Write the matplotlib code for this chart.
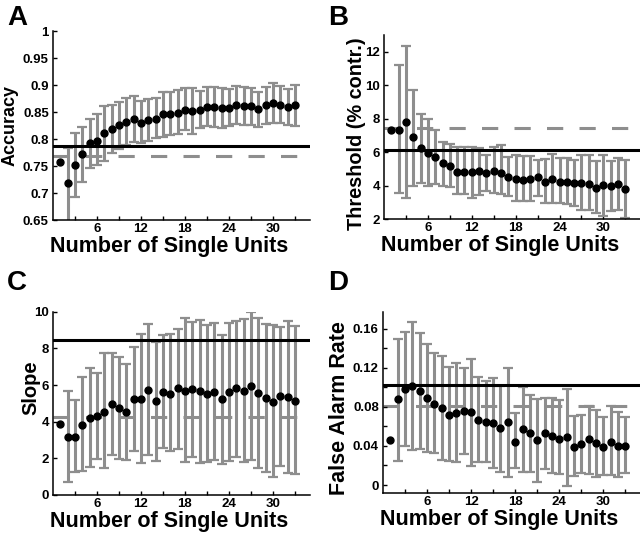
import numpy as np
import matplotlib.pyplot as plt
from matplotlib.ticker import FixedLocator, FixedFormatter

plt.rcParams['font.family'] = ['Liberation Sans', 'DejaVu Sans']
plt.rcParams['font.weight'] = 'bold'
plt.rcParams['lines.scale_dashes'] = False

nan = np.nan
units = np.arange(1, 34)

# A - accuracy
acc = [0.758, 0.718, 0.752, 0.772, 0.792, 0.797, 0.811, 0.818, 0.826, 0.832, 0.838,
       0.830, 0.835, 0.838, 0.846, 0.847, 0.849, 0.854, 0.852, 0.854, 0.860, 0.859,
       0.857, 0.858, 0.863, 0.862, 0.861, 0.855, 0.863, 0.866, 0.863, 0.860, 0.863]
acc_lo = [nan, 0.64, 0.693, 0.720, 0.747, 0.751, 0.760, 0.775, 0.781, 0.789, 0.794,
          0.792, 0.797, 0.802, 0.804, 0.807, 0.810, 0.817, 0.810, 0.820, 0.824, 0.823,
          0.820, 0.824, 0.828, 0.826, 0.826, 0.823, 0.828, 0.830, 0.829, 0.826, 0.824]
acc_hi = [nan, 0.783, 0.811, 0.823, 0.837, 0.846, 0.861, 0.863, 0.868, 0.876, 0.880,
          0.870, 0.874, 0.876, 0.888, 0.888, 0.891, 0.894, 0.894, 0.889, 0.897, 0.896,
          0.894, 0.892, 0.898, 0.896, 0.895, 0.888, 0.897, 0.903, 0.898, 0.892, 0.900]

# B - threshold
thr = [7.33, 7.33, 7.78, 6.88, 6.27, 5.96, 5.73, 5.32, 5.17, 4.84, 4.82, 4.82, 4.86,
       4.78, 4.86, 4.74, 4.53, 4.39, 4.34, 4.38, 4.50, 4.22, 4.42, 4.23, 4.23, 4.17,
       4.15, 4.10, 3.88, 4.01, 3.98, 4.11, 3.78]
thr_lo = [nan, 3.54, 3.27, 4.0, 4.15, 3.98, 4.1, 3.97, 3.9, 3.48, 3.48, 3.25, 3.45,
          3.65, 3.55, 3.5, 3.35, 3.05, 3.05, 3.05, 3.39, 2.95, 2.95, 2.95, 2.89, 2.8,
          2.56, 2.52, 2.36, 2.2, 2.5, 2.56, 2.06]
thr_hi = [nan, 11.2, 12.35, 9.72, 8.28, 7.96, 7.35, 6.63, 6.47, 6.3, 6.3, 6.33, 6.27,
          5.8, 6.3, 6.4, 5.7, 5.84, 5.78, 5.78, 5.54, 5.58, 5.9, 5.62, 5.62, 5.54,
          5.82, 5.82, 5.44, 5.82, 5.44, 5.64, 5.5]

# C - slope
slope = [3.87, 3.18, 3.18, 3.82, 4.22, 4.31, 4.55, 4.95, 4.76, 4.51, 5.22, 5.22, 5.73,
         5.13, 5.64, 5.49, 5.82, 5.67, 5.78, 5.69, 5.51, 5.60, 5.22, 5.60, 5.82, 5.67,
         5.96, 5.55, 5.27, 5.09, 5.40, 5.36, 5.15]
slope_lo = [nan, 0.73, 1.27, 1.33, 1.55, 1.96, 1.45, 2.18, 1.96, 1.91, 2.40, 1.76, 2.18,
            1.85, 2.55, 2.42, 2.51, 1.78, 2.09, 1.73, 1.82, 1.91, 1.67, 1.85, 2.09, 1.82,
            1.91, 1.45, 1.27, 0.96, 1.58, 1.18, 1.15]
slope_hi = [nan, 5.67, 5.18, 6.45, 6.91, 6.65, 7.73, 7.73, 7.55, 7.16, 8.09, 8.76, 9.31,
            8.36, 8.73, 8.76, 9.05, 9.64, 9.45, 9.55, 9.27, 9.36, 8.73, 9.36, 9.51, 9.60,
            9.97, 9.64, 9.33, 9.27, 9.18, 9.51, 9.24]

# D - false alarm rate
far = [0.0462, 0.0879, 0.0985, 0.1015, 0.0968, 0.0889, 0.083, 0.0786, 0.0718, 0.0742,
       0.0762, 0.0745, 0.0667, 0.0643, 0.0632, 0.0581, 0.0643, 0.0444, 0.0571, 0.053,
       0.046, 0.053, 0.050, 0.0468, 0.049, 0.0386, 0.042, 0.0468, 0.0427, 0.0393,
       0.0444, 0.040, 0.040]
far_lo = [nan, 0.0246, 0.040, 0.036, 0.037, 0.034, 0.033, 0.0256, 0.0246, 0.024, 0.032,
          0.0195, 0.024, 0.024, 0.0171, 0.013, 0.0085, 0.017, 0.0137, 0.013, 0.0034,
          0.016, 0.012, 0.011, -0.0007, 0.0096, 0.0126, 0.011, 0.0085, 0.010, 0.010,
          0.0079, 0.012]
far_hi = [nan, 0.150, 0.157, 0.167, 0.156, 0.145, 0.135, 0.132, 0.121, 0.125, 0.120,
          0.129, 0.111, 0.107, 0.110, 0.102, 0.120, 0.074, 0.100, 0.092, 0.0885, 0.089,
          0.089, 0.087, 0.098, 0.0708, 0.0718, 0.081, 0.077, 0.070, 0.081, 0.075, 0.0694]

# reference levels (solid black, dashed gray)
ref_solid = [0.787, 6.1, 8.45, 0.1026]
ref_dashed = [0.769, 7.45, 4.25, 0.081]

GRAY = '#8e8e8e'

fig = plt.figure(figsize=(6.4, 5.33), dpi=100)


def panel(rect, y, lo, hi, solid, dashed, ylim, yticks, ylabels, yminor,
          ylabel, ysize, ylab_xy):
    ax = fig.add_axes(rect)
    y = np.array(y)
    lo = np.array(lo)
    hi = np.array(hi)
    ax.plot([0, 35], [dashed, dashed], color=GRAY, lw=2.2,
            ls=(0, (11.7, 11.7)), zorder=1)
    m = ~np.isnan(lo)
    ax.errorbar(units[m], y[m], yerr=[y[m] - lo[m], hi[m] - y[m]], fmt='none',
                ecolor=GRAY, elinewidth=2.2, capsize=3.4, capthick=1.6, zorder=2)
    ax.axhline(solid, color='k', lw=2.2, zorder=3)
    ax.plot(units, y, 'o', color='k', ms=5, zorder=4)

    ax.set_xlim(0, 35)
    ax.set_ylim(*ylim)
    ax.xaxis.set_major_locator(FixedLocator([6, 12, 18, 24, 30]))
    ax.xaxis.set_minor_locator(FixedLocator([3, 9, 15, 21, 27, 33]))
    ax.yaxis.set_major_locator(FixedLocator(yticks))
    ax.yaxis.set_major_formatter(FixedFormatter(ylabels))
    if yminor:
        ax.yaxis.set_minor_locator(FixedLocator(yminor))
    ax.tick_params(which='both', direction='in', length=3, width=1,
                   labelsize=9.5, pad=3)
    ax.tick_params(axis='x', pad=2)
    for s in ['top', 'right']:
        ax.spines[s].set_visible(False)
    for s in ['left', 'bottom']:
        ax.spines[s].set_linewidth(1.1)
    ax.set_xlabel('Number of Single Units', fontsize=15.5, fontweight='bold')
    ax.xaxis.set_label_coords(0.453, -0.085)
    ax.set_ylabel(ylabel, fontsize=ysize, fontweight='bold')
    ax.yaxis.set_label_coords(*ylab_xy)
    return ax


panel([0.0828, 0.5872, 0.4008, 0.3546], acc, acc_lo, acc_hi, ref_solid[0], ref_dashed[0],
      (0.65, 1.0), [0.65, 0.7, 0.75, 0.8, 0.85, 0.9, 0.95, 1.0],
      ['0.65', '0.7', '0.75', '0.8', '0.85', '0.9', '0.95', '1'], None,
      'Accuracy', 13, (-0.135, 0.5))
panel([0.6, 0.5891, 0.4, 0.3452], thr, thr_lo, thr_hi, ref_solid[1], ref_dashed[1],
      (2, 13), [2, 4, 6, 8, 10, 12], ['2', '4', '6', '8', '10', '12'], None,
      'Threshold (% contr.)', 14.3, (-0.072, 0.465))
panel([0.0828, 0.0713, 0.4008, 0.3439], slope, slope_lo, slope_hi, ref_solid[2], ref_dashed[2],
      (0, 10), [0, 2, 4, 6, 8, 10], ['0', '2', '4', '6', '8', '10'], None,
      'Slope', 14.5, (-0.048, 0.586))
panel([0.5984, 0.0745, 0.4016, 0.3407], far, far_lo, far_hi, ref_solid[3], ref_dashed[3],
      (-0.0085, 0.1777), [0, 0.04, 0.08, 0.12, 0.16], ['0', '0.04', '0.08', '0.12', '0.16'],
      [0.02, 0.06, 0.10, 0.14], 'False Alarm Rate', 15.5, (-0.127, 0.472))

for letter, x, y in [('A', 0.011, 0.99), ('B', 0.512, 0.99),
                     ('C', 0.011, 0.494), ('D', 0.512, 0.494)]:
    fig.text(x, y, letter, fontsize=20, fontweight='bold', ha='left', va='top')

fig.savefig('out.png', dpi=100)
